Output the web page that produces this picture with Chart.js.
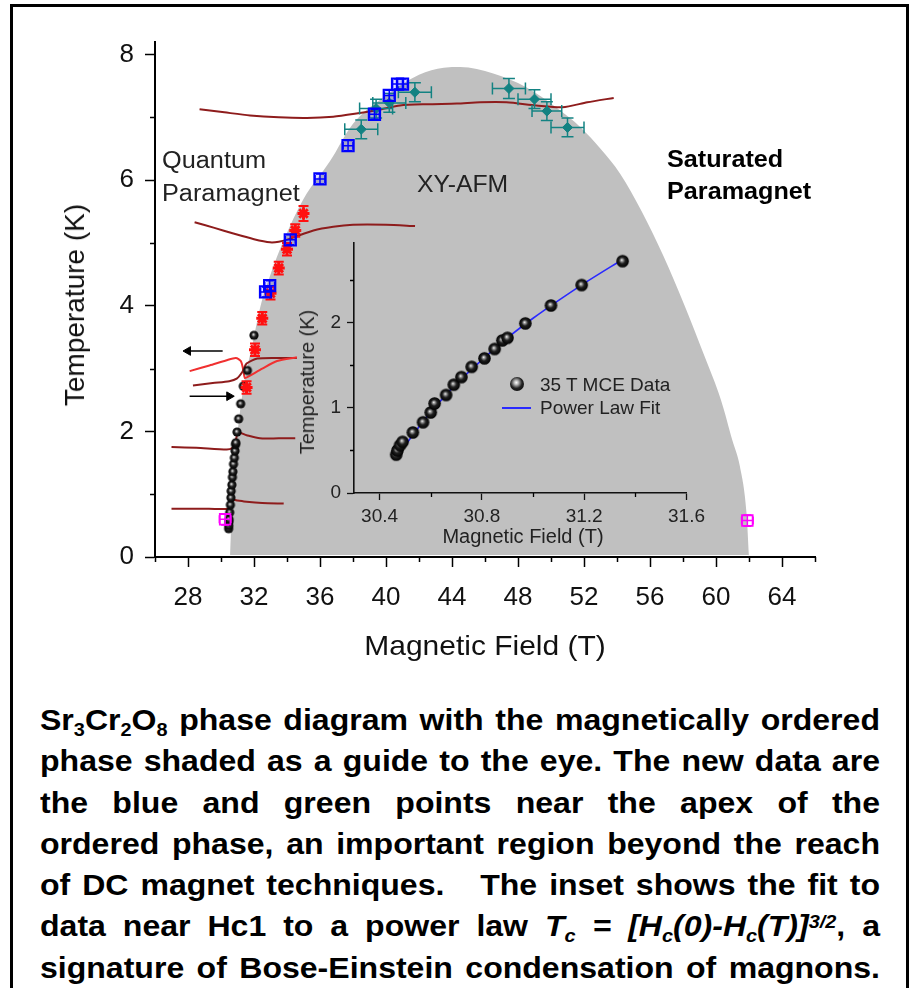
<!DOCTYPE html>
<html><head><meta charset="utf-8">
<script src="https://cdn.jsdelivr.net/npm/chart.js@4.4.1/dist/chart.umd.min.js"></script>
<style>
html,body{margin:0;padding:0;background:#fff;}
body{width:910px;height:988px;overflow:hidden;position:relative;font-family:"Liberation Sans",Arial,Helvetica,sans-serif;color:#111;}
#frame{position:absolute;left:10px;top:4px;width:893px;height:1100px;border:3px solid #000;box-sizing:content-box;}
canvas{position:absolute;}
#main{left:0;top:0;}
#inset{left:280px;top:225px;}
.t{position:absolute;white-space:nowrap;line-height:1;}
.st{transform-origin:left top;}
#cap{position:absolute;left:40px;top:700px;width:752px;font-weight:bold;font-size:28.7px;color:#000;transform:scaleX(1.117);transform-origin:left top;}
#cap .l{height:41.3px;line-height:41.3px;text-align:justify;text-align-last:justify;white-space:nowrap;}
#cap sub{font-size:0.62em;vertical-align:baseline;position:relative;top:0.32em;}
#cap sup{font-size:0.62em;vertical-align:baseline;position:relative;top:-0.45em;}
.lg{position:absolute;font-size:19px;line-height:1;color:#222;white-space:nowrap;}
</style>
</head><body>
<div id="frame"></div>
<canvas id="main" width="910" height="680"></canvas>
<canvas id="inset" width="430" height="330"></canvas>

<div class="t" style="left:75px;top:305px;font-size:28px;transform:translate(-50%,-50%) rotate(-90deg);">Temperature (K)</div>
<div class="t" style="left:485px;top:646px;font-size:28px;transform:translate(-50%,-50%) scaleX(1.07);">Magnetic Field (T)</div>

<div class="t st" style="left:162px;top:149px;font-size:23px;color:#222;transform:scaleX(1.1);">Quantum</div>
<div class="t st" style="left:162px;top:182px;font-size:23px;color:#222;transform:scaleX(1.1);">Paramagnet</div>
<div class="t st" style="left:417px;top:172px;font-size:24px;color:#222;transform:scaleX(1.03);">XY-AFM</div>
<div class="t st" style="left:667px;top:147px;font-size:24px;font-weight:bold;color:#000;transform:scaleX(1.05);">Saturated</div>
<div class="t st" style="left:667px;top:179px;font-size:24px;font-weight:bold;color:#000;transform:scaleX(1.05);">Paramagnet</div>

<div class="t" style="left:307px;top:382px;font-size:20px;color:#222;transform:translate(-50%,-50%) rotate(-90deg);">Temperature (K)</div>
<div class="t" style="left:523px;top:536px;font-size:20px;color:#222;transform:translate(-50%,-50%);">Magnetic Field (T)</div>

<div style="position:absolute;left:510px;top:377px;width:14px;height:14px;border-radius:50%;background:radial-gradient(circle at 45% 40%,#fff 0%,#bbb 18%,#222 50%,#000 100%);"></div>
<div class="lg" style="left:540px;top:375px;">35 T MCE Data</div>
<div style="position:absolute;left:502px;top:407px;width:29px;height:2px;background:#2a2aff;"></div>
<div class="lg" style="left:540px;top:398px;">Power Law Fit</div>

<div id="cap">
<div class="l">Sr<sub>3</sub>Cr<sub>2</sub>O<sub>8</sub> phase diagram with the magnetically ordered</div>
<div class="l">phase shaded as a guide to the eye. The new data are</div>
<div class="l">the blue and green points near the apex of the</div>
<div class="l">ordered phase, an important region beyond the reach</div>
<div class="l">of DC magnet techniques. &nbsp; The inset shows the fit to</div>
<div class="l">data near Hc1 to a power law <i>T<sub>c</sub> = [H<sub>c</sub>(0)-H<sub>c</sub>(T)]<sup>3/2</sup></i>, a</div>
<div class="l">signature of Bose-Einstein condensation of magnons.</div>
</div>

<script>
// ===== Main phase diagram data =====
const xMajorTicks = [28, 32, 36, 40, 44, 48, 52, 56, 60, 64];
const xMinorTicks = [26, 30, 34, 38, 42, 46, 50, 54, 58, 62, 66];
const yMajorTicks = [0, 2, 4, 6, 8];
const yMinorTicks = [1, 3, 5, 7];

// shaded ordered phase boundary (guide to the eye)
const domeH = [30.55, 30.62, 30.75, 30.95, 31.3, 31.96, 32.4, 33.0, 33.8, 35.0, 36.6, 38.0, 40.0, 42.0, 43.5, 44.5, 46.5, 48.5, 50.3, 51.8, 53.0, 54.2, 55.5, 56.8, 58.1, 59.3, 60.3, 61.0, 61.45, 61.85, 62.0];
const domeT = [0, 0.5, 1.0, 1.8, 2.6, 3.45, 4.0, 4.5, 5.04, 5.7, 6.3, 6.9, 7.35, 7.68, 7.79, 7.8, 7.7, 7.48, 7.16, 6.84, 6.5, 6.1, 5.5, 4.8, 4.0, 3.2, 2.5, 1.85, 1.44, 0.7, 0];

// raw traces (dark red)
const trace1H = [28.7, 30.2, 31.76, 33.5, 35.2, 36.8, 38.2, 39.6, 40.85, 42.5, 44.3, 45.7, 47.3, 49.1, 50.7, 52.2, 53.8];
const trace1T = [7.13, 7.08, 7.03, 7.0, 6.99, 7.01, 7.06, 7.12, 7.19, 7.21, 7.22, 7.24, 7.24, 7.19, 7.16, 7.24, 7.31];
const trace2H = [28.4, 29.6, 30.75, 32.0, 32.97, 33.5, 34.2, 35.6, 36.8, 38.0, 40.0, 41.76];
const trace2T = [5.33, 5.24, 5.15, 5.06, 5.01, 5.02, 5.07, 5.2, 5.26, 5.29, 5.29, 5.27];
const loopUpH = [28.3, 29.5, 30.5, 30.95, 31.3, 31.55, 32.2, 33.5, 34.6];
const loopUpT = [2.73, 2.77, 2.8, 2.84, 2.95, 3.08, 3.16, 3.17, 3.17];
const loopDownH = [28.1, 29.3, 30.3, 30.9, 31.2, 31.35, 31.45, 31.7, 32.5, 33.4, 34.6];
const loopDownT = [2.96, 3.05, 3.13, 3.17, 3.12, 2.98, 2.85, 2.88, 3.0, 3.12, 3.18];
const trace3H = [27.0, 28.5, 30.35, 30.7, 30.85, 31.05, 31.55, 32.36, 33.5, 34.5];
const trace3T = [1.75, 1.74, 1.71, 1.74, 1.81, 1.98, 1.94, 1.89, 1.89, 1.89];
const trace4H = [27.0, 28.8, 30.44, 30.6, 30.75, 31.0, 31.55, 32.5, 33.8];
const trace4T = [0.77, 0.77, 0.77, 0.84, 0.91, 0.9, 0.88, 0.86, 0.85];

// sweep-direction arrows [H start, H end, T]
const arrowLeft = [30.1, 28.0, 3.28];
const arrowRight = [28.1, 30.5, 2.56];

// red points
const redH = [31.55, 32.06, 32.5, 33.0, 33.5, 34.0, 34.5, 35.0];
const redT = [2.7, 3.3, 3.8, 4.2, 4.6, 4.9, 5.2, 5.47];
const redTerr = [0.1, 0.1, 0.1, 0.1, 0.1, 0.1, 0.1, 0.12];
// blue points
const blueH = [32.7, 32.95, 34.2, 36.0, 37.7, 39.3, 40.2, 40.7, 41.0];
const blueT = [4.22, 4.32, 5.05, 6.02, 6.55, 7.05, 7.35, 7.53, 7.53];
const blueHerr = [0.3, 0.3, 0.3, 0.3, 0.3, 0.3, 0.3, 0.3, 0.3];
const blueTerr = [0.08, 0.08, 0.08, 0.08, 0.08, 0.08, 0.08, 0.08, 0.08];
// green points
const greenH = [38.5, 39.4, 40.2, 41.75, 47.45, 49.0, 49.75, 51.0];
const greenT = [6.81, 7.14, 7.23, 7.4, 7.46, 7.29, 7.1, 6.84];
const greenHerr = [1.0, 1.0, 1.0, 1.0, 1.0, 1.0, 0.9, 1.0];
const greenTerr = [0.15, 0.15, 0.15, 0.15, 0.16, 0.15, 0.15, 0.15];
// magenta points
const magH = [30.25, 61.9];
const magT = [0.6, 0.58];
const magHerr = [0.35, 0.35];
const magTerr = [0.09, 0.09];
// black MCE points (main plot)
const blackH = [30.465, 30.47, 30.48, 30.49, 30.53, 30.57, 30.6, 30.615, 30.66, 30.69, 30.72, 30.76, 30.81, 30.85, 30.88, 30.9, 30.97, 31.07, 31.19, 31.35, 31.6, 32.0];
const blackT = [0.45, 0.5, 0.56, 0.6, 0.71, 0.83, 0.945, 1.05, 1.15, 1.27, 1.36, 1.48, 1.58, 1.69, 1.79, 1.82, 1.99, 2.2, 2.44, 2.72, 2.97, 3.53];

// ===== Inset data =====
const insetXMajor = [30.4, 30.8, 31.2, 31.6];
const insetXMinor = [30.6, 31.0, 31.4];
const insetYMajor = [0, 1, 2];
const insetYMinor = [0.5, 1.5, 2.5];
const mceH = [30.465, 30.47, 30.48, 30.49, 30.53, 30.57, 30.6, 30.615, 30.66, 30.69, 30.72, 30.76, 30.81, 30.85, 30.88, 30.9, 30.97, 31.07, 31.19, 31.35];
const mceT = [0.45, 0.5, 0.56, 0.6, 0.71, 0.83, 0.945, 1.05, 1.15, 1.27, 1.36, 1.48, 1.58, 1.69, 1.79, 1.82, 1.99, 2.2, 2.44, 2.72];
const fitH = [30.465, 30.5, 30.55, 30.6, 30.7, 30.8, 30.9, 31.0, 31.1, 31.2, 31.35];
const fitT = [0.42, 0.56, 0.76, 0.95, 1.28, 1.56, 1.82, 2.05, 2.26, 2.46, 2.74];

// ===== helpers =====
const pts = (xs, ys) => xs.map((x, i) => ({x: x, y: ys[i]}));
function sphere(r) {
  const c = document.createElement('canvas');
  const s = Math.ceil(2 * r + 2);
  c.width = s; c.height = s;
  const g = c.getContext('2d');
  const cx = s / 2, cy = s / 2;
  const grd = g.createRadialGradient(cx - r * 0.15, cy - r * 0.2, 0, cx, cy, r);
  grd.addColorStop(0, '#ffffff');
  grd.addColorStop(0.2, '#9a9a9a');
  grd.addColorStop(0.5, '#202020');
  grd.addColorStop(1, '#000000');
  g.fillStyle = grd;
  g.beginPath(); g.arc(cx, cy, r, 0, Math.PI * 2); g.fill();
  return c;
}

const errorBars = {
  id: 'errorBars',
  afterDatasetDraw(chart, args) {
    const ds = chart.data.datasets[args.index];
    if (!ds.errH && !ds.errT) return;
    const xs = chart.scales.x, ys = chart.scales.y, ctx = chart.ctx;
    const cap = ds.errCap || 4;
    ctx.save();
    ctx.strokeStyle = ds.errColor || ds.borderColor;
    ctx.lineWidth = ds.errWidth || 1.5;
    ctx.beginPath();
    ds.data.forEach((p, i) => {
      const px = xs.getPixelForValue(p.x), py = ys.getPixelForValue(p.y);
      if (ds.errH) {
        const a = xs.getPixelForValue(p.x - ds.errH[i]), b = xs.getPixelForValue(p.x + ds.errH[i]);
        ctx.moveTo(a, py); ctx.lineTo(b, py);
        ctx.moveTo(a, py - cap); ctx.lineTo(a, py + cap);
        ctx.moveTo(b, py - cap); ctx.lineTo(b, py + cap);
      }
      if (ds.errT) {
        const a = ys.getPixelForValue(p.y - ds.errT[i]), b = ys.getPixelForValue(p.y + ds.errT[i]);
        ctx.moveTo(px, a); ctx.lineTo(px, b);
        ctx.moveTo(px - cap, a); ctx.lineTo(px + cap, a);
        ctx.moveTo(px - cap, b); ctx.lineTo(px + cap, b);
      }
    });
    ctx.stroke();
    ctx.restore();
  }
};

const minorTicks = {
  id: 'minorTicks',
  afterDraw(chart, args, opts) {
    const xs = chart.scales.x, ys = chart.scales.y, ctx = chart.ctx, ca = chart.chartArea;
    ctx.save();
    ctx.strokeStyle = '#000'; ctx.lineWidth = opts.width || 1.5;
    ctx.beginPath();
    (opts.xMinor || []).forEach(v => {
      const px = Math.round(xs.getPixelForValue(v)) + 0.5;
      ctx.moveTo(px, ca.bottom); ctx.lineTo(px, ca.bottom + opts.len);
    });
    (opts.yMinor || []).forEach(v => {
      const py = Math.round(ys.getPixelForValue(v)) + 0.5;
      ctx.moveTo(ca.left, py); ctx.lineTo(ca.left - opts.len, py);
    });
    ctx.stroke();
    ctx.restore();
  }
};

Chart.defaults.font.family = '"Liberation Sans", Arial, Helvetica, sans-serif';
Chart.defaults.color = '#111';

const TRACE = '#8e1c1c';
function traceDS(xs, ys, color) {
  return {type: 'line', data: pts(xs, ys), borderColor: color || TRACE, borderWidth: 2, pointRadius: 0, tension: 0.25, fill: false};
}
function arrowDS(a, rot) {
  return {type: 'line', data: [{x: a[0], y: a[2]}, {x: a[1], y: a[2]}], borderColor: '#000', borderWidth: 1.5,
    pointRadius: [0, 5], pointStyle: 'triangle', pointRotation: rot, pointBackgroundColor: '#000', pointBorderColor: '#000', pointBorderWidth: 1, fill: false};
}

const mainCfg = {
  type: 'scatter',
  data: {
    datasets: [
      {data: pts(magH, magT), pointStyle: 'rect', pointRadius: 7.5, borderColor: '#ff00ff', backgroundColor: 'rgba(0,0,0,0)', pointBorderWidth: 1.8, errH: magHerr, errT: magTerr, errCap: 4},
      {data: pts(blueH, blueT), pointStyle: 'rect', pointRadius: 8, borderColor: '#0000ff', backgroundColor: 'rgba(0,0,255,0.12)', pointBorderWidth: 2, errH: blueHerr, errT: blueTerr, errCap: 4},
      {data: pts(greenH, greenT), pointStyle: 'rectRot', pointRadius: 5, borderColor: '#138282', backgroundColor: '#138282', pointBorderWidth: 1, errH: greenHerr, errT: greenTerr, errCap: 6},
      {data: pts(redH, redT), pointStyle: 'star', pointRadius: 6, borderColor: '#ff1010', backgroundColor: '#ff1010', pointBorderWidth: 3, errT: redTerr, errCap: 5, errWidth: 2},
      {data: pts(blackH, blackT), pointStyle: sphere(4.6), pointRadius: 4.6},
      arrowDS(arrowLeft, -90),
      arrowDS(arrowRight, 90),
      traceDS(loopDownH, loopDownT, '#f03030'),
      traceDS(loopUpH, loopUpT),
      traceDS(trace1H, trace1T),
      traceDS(trace2H, trace2T),
      traceDS(trace3H, trace3T),
      traceDS(trace4H, trace4T),
      {type: 'line', data: pts(domeH, domeT), borderWidth: 0, borderColor: 'rgba(0,0,0,0)', backgroundColor: '#c0c0c0', pointRadius: 0,
        fill: {value: 0.03}, cubicInterpolationMode: 'monotone'}
    ]
  },
  options: {
    responsive: false, animation: false, devicePixelRatio: 1,
    layout: {padding: {left: 0, top: 42, right: 95, bottom: 0}},
    plugins: {legend: {display: false}, tooltip: {enabled: false},
      minorTicks: {xMinor: xMinorTicks, yMinor: yMinorTicks, len: 5, width: 1.5}},
    scales: {
      x: {type: 'linear', min: 26, max: 66,
        afterBuildTicks: s => { s.ticks = xMajorTicks.map(v => ({value: v})); },
        afterFit: s => { s.height = 123; },
        ticks: {font: {size: 26}, color: '#111', padding: 15, maxRotation: 0, autoSkip: false},
        grid: {drawOnChartArea: false, drawTicks: true, tickLength: 10, tickColor: '#000', tickWidth: 1.5},
        border: {display: true, color: '#000', width: 2}},
      y: {type: 'linear', min: 0, max: 8.2,
        afterBuildTicks: s => { s.ticks = yMajorTicks.map(v => ({value: v})); },
        afterFit: s => { s.width = 155; },
        ticks: {font: {size: 26}, color: '#111', padding: 11, autoSkip: false},
        grid: {drawOnChartArea: false, drawTicks: true, tickLength: 10, tickColor: '#000', tickWidth: 1.5},
        border: {display: true, color: '#000', width: 2}}
    }
  },
  plugins: [errorBars, minorTicks]
};
new Chart(document.getElementById('main'), mainCfg);

const insetCfg = {
  type: 'scatter',
  data: {
    datasets: [
      {data: pts(mceH, mceT), pointStyle: sphere(6.3), pointRadius: 6.3},
      {type: 'line', data: pts(fitH, fitT), borderColor: '#2a2aff', borderWidth: 1.6, pointRadius: 0, tension: 0.3, fill: false}
    ]
  },
  options: {
    responsive: false, animation: false, devicePixelRatio: 1,
    layout: {padding: {left: 0, top: 15, right: 19, bottom: 0}},
    plugins: {legend: {display: false}, tooltip: {enabled: false},
      minorTicks: {xMinor: insetXMinor, yMinor: insetYMinor, len: 4, width: 1.3}},
    scales: {
      x: {type: 'linear', min: 30.3, max: 31.6,
        afterBuildTicks: s => { s.ticks = insetXMajor.map(v => ({value: v})); },
        afterFit: s => { s.height = 62; },
        ticks: {font: {size: 19}, color: '#222', padding: 5, maxRotation: 0, autoSkip: false,
          callback: v => v.toFixed(1)},
        grid: {drawOnChartArea: false, drawTicks: true, tickLength: 7, tickColor: '#111', tickWidth: 1.3},
        border: {display: true, color: '#111', width: 1.6}},
      y: {type: 'linear', min: 0, max: 2.94,
        afterBuildTicks: s => { s.ticks = insetYMajor.map(v => ({value: v})); },
        afterFit: s => { s.width = 74; },
        ticks: {font: {size: 19}, color: '#222', padding: 6, autoSkip: false},
        grid: {drawOnChartArea: false, drawTicks: true, tickLength: 7, tickColor: '#111', tickWidth: 1.3},
        border: {display: true, color: '#111', width: 1.6}}
    }
  },
  plugins: [errorBars, minorTicks]
};
new Chart(document.getElementById('inset'), insetCfg);
</script>
</body></html>
